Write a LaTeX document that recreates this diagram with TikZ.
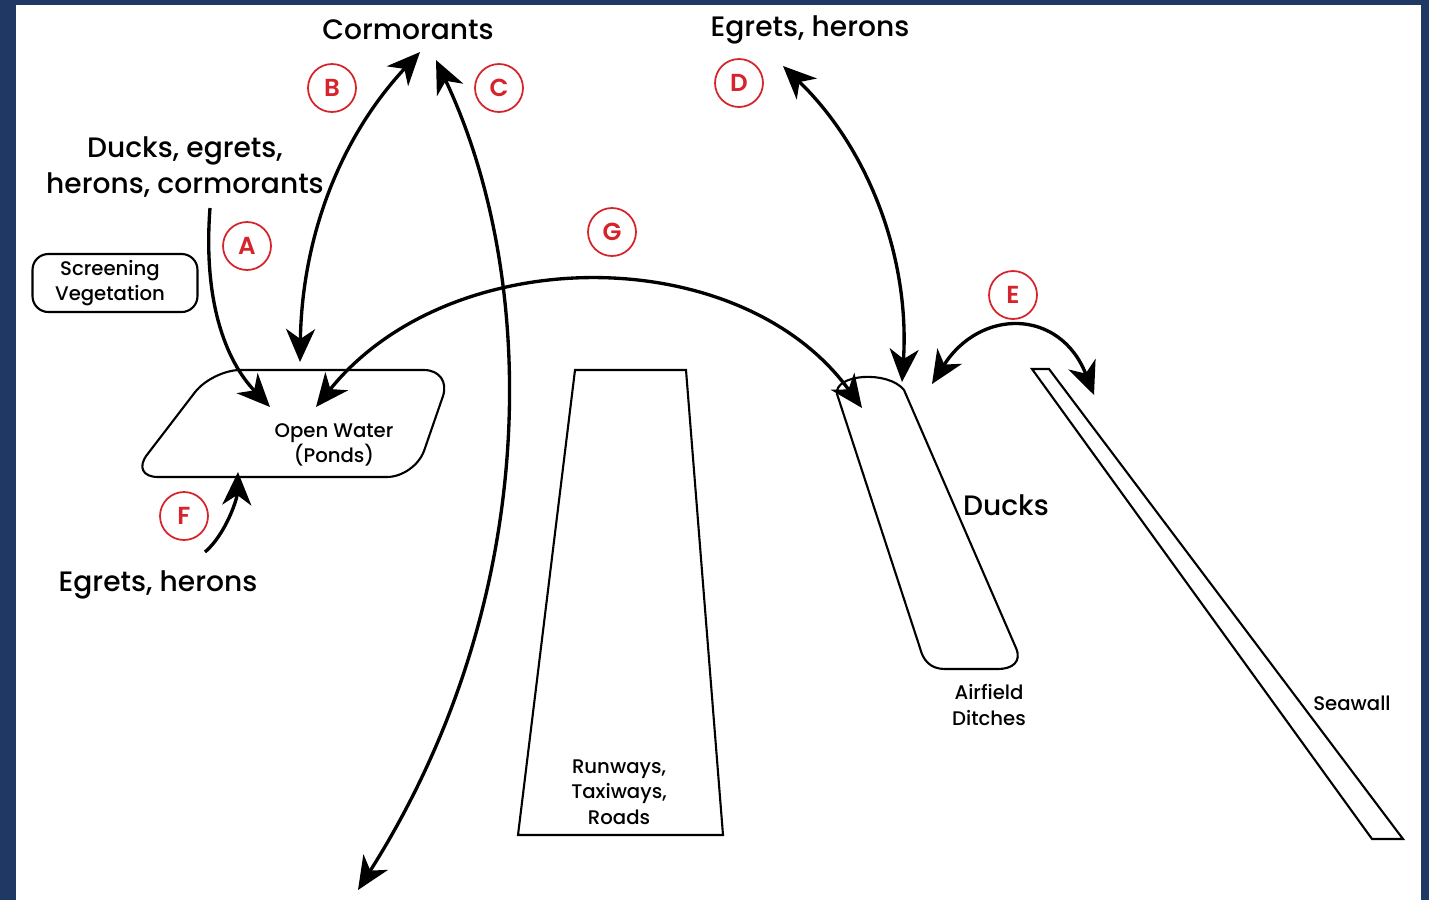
\documentclass[tikz,border=0pt]{standalone}
\usepackage{fontspec}
\setmainfont{Poppins}
\IfFontExistsTF{Poppins Medium}
    {\newfontfamily\heavyfont{Poppins Medium}}
    {\newfontfamily\heavyfont{Poppins}}
\IfFontExistsTF{Poppins SemiBold}
    {\newfontfamily\markfont{Poppins SemiBold}}
    {\newfontfamily\markfont{Poppins}[BoldFont=*]}
\usetikzlibrary{arrows.meta,positioning}
\definecolor{navyframe}{RGB}{31,56,100}
\definecolor{markred}{RGB}{214,36,44}

\begin{document}
\begin{tikzpicture}[x=0.02cm,y=-0.02cm,
    flight/.style={line width=1.9pt,-{Stealth[length=6.6mm,width=5.8mm,inset=2mm]}},
    twoway/.style={line width=1.9pt,{Stealth[length=6.6mm,width=5.8mm,inset=2mm]}-{Stealth[length=6.6mm,width=5.8mm,inset=2mm]}},
    marker/.style={circle,draw=markred,line width=1pt,text=markred,minimum size=0.96cm,inner sep=0pt,font=\markfont\fontsize{14}{14}\selectfont},
    birds/.style={align=center,font=\heavyfont\fontsize{16}{20.5}\selectfont},
    place/.style={align=center,font=\heavyfont\fontsize{11.2}{14.5}\selectfont},
    outline/.style={line width=1.2pt}]

% frame
\fill[navyframe] (0,0) rectangle (1429,900);
\fill[white] (16,5) rectangle (1421,900);

% ground features
\draw[outline,rounded corners=16] (212,370) -- (452,370) -- (415,477) -- (130,477) -- cycle;
\draw[outline] (575,370) -- (686,370) -- (723,835) -- (518,835) -- cycle;
\draw[outline] (837,394) .. controls (834,374) and (888,370) .. (904,390) -- (1016,648)
    .. controls (1022,662) and (1012,669) .. (998,669) -- (945,669)
    .. controls (930,669) and (923,660) .. (920,648) -- cycle;
\draw[outline] (1032,369) -- (1049,369) -- (1403,839) -- (1372,839) -- cycle;

% labels
\node[birds] (cormorants) at (408,30) {Cormorants};
\node[birds] (egretsTop) at (810,30) {Egrets, herons};
\node[birds] (mixed) at (185,167) {Ducks, egrets,\\herons, cormorants};
\node[birds] (egretsLow) at (158,585) {Egrets, herons};
\node[birds] (ducks) at (1006,505) {Ducks};
\node[place,draw,outline,rounded corners=9,minimum width=3.3cm,minimum height=1.16cm] (screen) at (115,283) {};
\node[place] (screenText) at (110,283) {Screening\\Vegetation};
\node[place] (pond) at (334,445) {Open Water\\(Ponds)};
\node[place] (runway) at (619,792) {Runways,\\Taxiways,\\Roads};
\node[place] (ditch) at (989,705) {Airfield\\Ditches};
\node[place] (seawall) at (1352,703) {Seawall};

\foreach \m/\x/\y in {A/247/246,B/332/88,C/499/88,D/739/83,E/1013/295,F/184/516,G/612/232}
    \node[marker] (mark\m) at (\x,\y) {\m};

% flight paths
\coordinate (aStart) at (210,208);
\coordinate (aEnd) at (270,407);
\coordinate (bLow) at (300,362);
\coordinate (bHigh) at (420,52);
\coordinate (cHigh) at (436,60);
\coordinate (cLow) at (358,890);
\coordinate (dHigh) at (783,66);
\coordinate (dLow) at (902,382);
\coordinate (eLeft) at (932,384);
\coordinate (eRight) at (1094,395);
\coordinate (gLeft) at (316,407);
\coordinate (gRight) at (862,408);
\coordinate (fStart) at (205,552);
\coordinate (fEnd) at (238,472);

\draw[flight] (aStart) .. controls (203,300) and (225,360) .. (aEnd);
\draw[twoway] (bLow) .. controls (302,240) and (338,140) .. (bHigh);
\draw[twoway] (cHigh) .. controls (540,280) and (542,600) .. (cLow);
\draw[twoway] (dHigh) .. controls (870,150) and (910,260) .. (dLow);
\draw[twoway] (eLeft) .. controls (980,308) and (1060,308) .. (eRight);
\draw[twoway] (gLeft) .. controls (450,240) and (740,240) .. (gRight);
\draw[flight] (fStart) .. controls (225,535) and (237,500) .. (fEnd);

\end{tikzpicture}
\end{document}
